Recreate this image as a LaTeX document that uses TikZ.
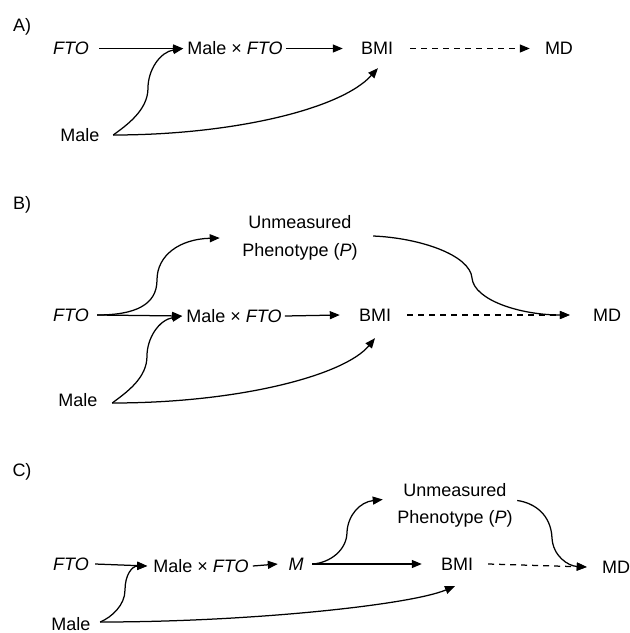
\documentclass[tikz,border=0pt]{standalone}
\usepackage{fontspec}
\setmainfont{Liberation Sans}
\usetikzlibrary{arrows.meta}
\tikzset{
 lbl/.style={inner sep=0pt, text height=12.9pt, text depth=0pt, font=\fontsize{18}{27}\selectfont},
 two/.style={inner sep=0pt, align=center, font=\fontsize{18}{27.5}\selectfont},
 arr/.style={line width=1.25pt, -{Triangle[length=10pt,width=8pt]}},
 dsh/.style={arr, dash pattern=on 6pt off 5pt},
}
\begin{document}
\begin{tikzpicture}[x=1pt,y=-1pt]
\useasboundingbox (0,0) rectangle (630,633);
% ---------- Panel A ----------
\node[lbl] (a-lab) at (22,25) {A)};
\node[lbl] (a-fto) at (71,48) {\textit{FTO}};
\node[lbl] (a-mxf) at (235,48) {Male × \textit{FTO}};
\node[lbl] (a-bmi) at (377,48) {BMI};
\node[lbl] (a-md) at (559,48) {MD};
\node[lbl] (a-male) at (80,135) {Male};
\draw[arr] ([xshift=10pt,yshift=-0.5pt]a-fto.east) -- ([xshift=-4pt,yshift=-0.5pt]a-mxf.west);
\draw[arr] ([xshift=3pt,yshift=-0.5pt]a-mxf.east) -- ([xshift=-18pt,yshift=-0.5pt]a-bmi.west);
\draw[dsh] ([xshift=17pt,yshift=-0.5pt]a-bmi.east) -- ([xshift=-15pt,yshift=-0.5pt]a-md.west);
\draw[arr] ([xshift=13.5pt]a-male.east) .. controls (127,125) and (148,110) .. (148,88)
   .. controls (148,70) and (160,52) .. ([xshift=-4pt,yshift=-0.5pt]a-mxf.west);
\draw[arr] ([xshift=13.5pt]a-male.east) .. controls (230,135) and (340,110) .. ([xshift=1pt,yshift=-13.5pt]a-bmi.south);
% ---------- Panel B ----------
\node[lbl] (b-lab) at (22,203) {B)};
\node[lbl] (b-fto) at (71,315) {\textit{FTO}};
\node[lbl] (b-mxf) at (234,316) {Male × \textit{FTO}};
\node[lbl] (b-bmi) at (375,315) {BMI};
\node[lbl] (b-md) at (607,315) {MD};
\node[lbl] (b-male) at (78,400) {Male};
\node[two] (b-up) at (300,238) {Unmeasured\\Phenotype (\textit{P})};
\draw[arr] ([xshift=8pt]b-fto.east) -- ([xshift=-4pt]b-mxf.west);
\draw[arr] ([xshift=3pt]b-mxf.east) -- ([xshift=-19pt]b-bmi.west);
\draw[dsh] ([xshift=16pt]b-bmi.east) -- ([xshift=-23pt]b-md.west);
\draw[arr] ([xshift=8pt]b-fto.east) .. controls (135,315) and (157,305) .. (157,280)
   .. controls (157,255) and (180,239) .. ([xshift=-22.5pt]b-up.west);
\draw[arr] ([xshift=15.5pt,yshift=2pt]b-up.east) .. controls (420,238) and (470,255) .. (472,278)
   .. controls (474,300) and (520,315) .. ([xshift=-23pt]b-md.west);
\draw[arr] ([xshift=14.5pt,yshift=-3pt]b-male.east) .. controls (127,392) and (147,378) .. (147,356)
   .. controls (147,338) and (159,320) .. ([xshift=-4pt]b-mxf.west);
\draw[arr] ([xshift=14.5pt,yshift=-3pt]b-male.east) .. controls (240,403) and (345,375) .. ([yshift=-16.5pt]b-bmi.south);
% ---------- Panel C ----------
\node[lbl] (c-lab) at (22,470) {C)};
\node[lbl] (c-fto) at (71,564) {\textit{FTO}};
\node[lbl] (c-mxf) at (201,566) {Male × \textit{FTO}};
\node[lbl] (c-m) at (296,564) {\textit{M}};
\node[lbl] (c-bmi) at (457,564) {BMI};
\node[lbl] (c-md) at (616,567) {MD};
\node[lbl] (c-male) at (71,624) {Male};
\node[two] (c-up) at (455,505.5) {Unmeasured\\Phenotype (\textit{P})};
\draw[arr] ([xshift=6pt]c-fto.east) -- ([xshift=-6pt]c-mxf.west);
\draw[arr] ([xshift=4pt]c-mxf.east) -- ([xshift=-10.5pt]c-m.west);
\draw[arr] ([xshift=8.5pt]c-m.east) -- ([xshift=-19pt]c-bmi.west);
\draw[dsh] ([xshift=15pt]c-bmi.east) -- ([xshift=-15pt]c-md.west);
\draw[arr] ([xshift=8.5pt]c-m.east) .. controls (330,563) and (347,550) .. (347,532)
   .. controls (348,515) and (360,502) .. ([xshift=-14.5pt,yshift=6pt]c-up.west);
\draw[arr] ([xshift=4.5pt,yshift=5pt]c-up.east) .. controls (535,503) and (551,515) .. (552,538)
   .. controls (553,556) and (568,566) .. ([xshift=-15pt]c-md.west);
\draw[arr] ([xshift=9.5pt,yshift=2pt]c-male.east) .. controls (112,617) and (125,605) .. (125,590)
   .. controls (125,575) and (132,566) .. ([xshift=-6pt]c-mxf.west);
\draw[arr] ([xshift=9.5pt,yshift=2pt]c-male.east) .. controls (250,622) and (410,605) .. ([xshift=-2pt,yshift=-15.5pt]c-bmi.south);
\end{tikzpicture}
\end{document}
